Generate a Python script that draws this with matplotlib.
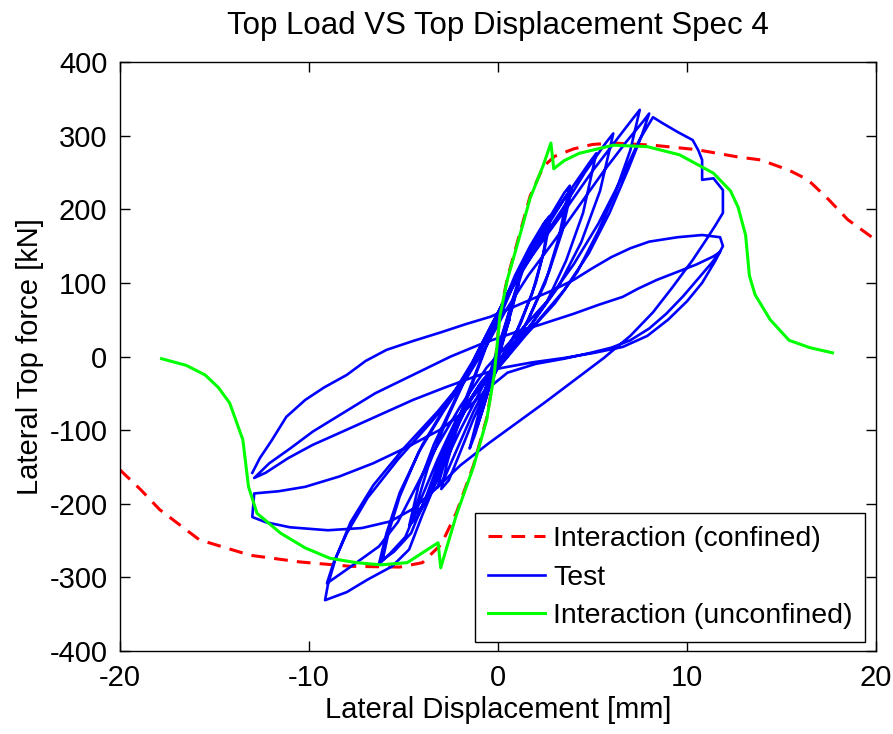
import matplotlib
matplotlib.use('Agg')
import matplotlib.pyplot as plt
from matplotlib import font_manager

# curva interazione confinata (rossa tratteggiata)
conf_x = [-20, -18.9, -17.9, -15.8, -13.1, -10.5, -7.8, -5.2, -4.0, -3.0, -2.2, -1.3, -0.6, -0.2,
          0.1, 0.5, 1.0, 1.7, 2.4, 3.0, 4.0, 5.0, 6.1, 8.2, 10.5, 12.7, 13.9, 15.4, 16.4, 17.5, 18.5, 20]
conf_y = [-154, -181, -208, -249, -270, -279, -285, -286, -280, -255, -212, -148, -84, -23,
          57, 107, 153, 218, 258, 272, 282, 288, 290, 287, 281, 271, 267, 253, 240, 213, 186, 158]

# curva interazione non confinata (verde)
unconf_x = [-17.8, -16.5, -15.5, -14.8, -14.2, -13.5, -13.2, -12.75, -11.5, -10.2, -8.9, -7.5, -6.2,
            -4.8, -3.6, -3.17, -3.03, -2.2, -1.3, -0.6, -0.2, 0.1, 0.5, 1.0, 1.7, 2.4, 2.8, 2.95,
            3.5, 4.3, 6.1, 7.9, 9.6, 11.4, 12.3, 12.7, 13.1, 13.3, 13.6, 14.4, 15.4, 16.5, 17.7]
unconf_y = [-3, -12, -25, -42, -63, -113, -177, -213, -240, -260, -274, -280, -283,
            -280, -260, -253, -287, -215, -150, -86, -25, 55, 105, 150, 215, 260, 290, 255,
            266, 276, 287, 285, 274, 249, 225, 203, 165, 110, 84, 50, 22, 12, 5]

# prova sperimentale (blu), a tratti
test_elastic = [(0, 0), (0.3, 25), (0.6, 50), (0.4, 38), (0, 8), (-0.3, -20), (-0.6, -48), (-0.4, -36),
                (0, -5), (0.5, 42), (0.9, 80), (1.1, 100), (0.8, 78), (0.2, 25), (-0.4, -25), (-0.9, -75),
                (-1.1, -95), (-0.8, -72), (-0.2, -20), (0.5, 45), (1.1, 100), (1.4, 125), (1.1, 105),
                (0.4, 45), (-0.4, -20), (-1.1, -85), (-1.5, -125), (-1.2, -105), (-0.5, -45)]

test_small = [(0.2, 0), (1.0, 35), (1.8, 85), (2.4, 140), (2.7, 190), (2.4, 180), (1.7, 150), (0.9, 110),
              (0.1, 60), (-0.6, 15), (-1.4, -40), (-2.2, -100), (-2.7, -145), (-3.0, -180), (-2.6, -168),
              (-2.0, -130), (-1.3, -85), (-0.5, -40),
              (0.4, 5), (1.2, 45), (2.0, 100), (2.5, 150), (2.8, 192), (2.5, 183), (1.8, 150), (1.0, 108),
              (0.2, 60), (-0.7, 10), (-1.6, -50), (-2.5, -115), (-2.9, -150), (-3.2, -178), (-2.8, -163),
              (-2.1, -122), (-1.3, -75), (-0.5, -35),
              (0.5, 5), (1.5, 45), (2.5, 100), (3.2, 160), (3.8, 232), (3.5, 222), (2.8, 192), (1.8, 148),
              (0.8, 100), (-0.2, 50), (-1.2, 0), (-2.3, -60), (-3.4, -120), (-4.2, -175), (-4.7, -230),
              (-4.2, -215), (-3.6, -185), (-2.9, -135), (-2.0, -85), (-1.0, -40),
              (0.5, 0), (1.6, 50), (2.7, 115), (3.4, 170), (3.9, 228), (3.6, 218), (2.8, 185), (1.7, 138),
              (0.6, 88), (-0.4, 38), (-1.5, -18), (-2.7, -85), (-3.7, -150), (-4.5, -218), (-4.0, -203),
              (-3.3, -165), (-2.5, -115), (-1.5, -60)]

test_mid = [(0.3, -5), (1.4, 30), (2.6, 75), (3.6, 130), (4.5, 195), (5.2, 276), (4.8, 262), (3.8, 225),
            (2.6, 180), (1.4, 130), (0.3, 75), (-0.6, 25), (-1.6, -25), (-2.9, -75), (-4.2, -130),
            (-5.2, -190), (-5.8, -240), (-6.1, -276), (-5.5, -265), (-4.6, -240), (-3.8, -190),
            (-3.0, -135), (-2.0, -80), (-0.9, -35),
            (0.4, 5), (1.8, 45), (3.2, 95), (4.4, 155), (5.4, 225), (6.1, 303), (5.7, 290), (4.6, 250),
            (3.4, 200), (2.1, 150), (0.8, 95), (-0.3, 45), (-1.3, -5), (-2.6, -60), (-4.0, -120),
            (-5.2, -185), (-5.9, -240), (-6.3, -282), (-5.8, -270), (-4.9, -245), (-4.1, -195),
            (-3.2, -140), (-2.2, -85), (-1.0, -40)]

test_peak = [(0.2, -10), (1.5, 30), (3.0, 72), (4.2, 115), (5.3, 170), (6.2, 222), (7.0, 280), (7.5, 335),
             (7.1, 322), (6.2, 292), (5.0, 252), (3.8, 208), (2.5, 162), (1.2, 115), (0.2, 70), (-0.6, 25),
             (-1.6, -25), (-3.2, -75), (-5.0, -125), (-6.6, -175), (-7.8, -225), (-8.6, -275),
             (-9.0, -310), (-9.15, -331),
             (-8.0, -320), (-6.9, -303), (-5.6, -285), (-4.7, -262), (-4.0, -215), (-3.1, -160),
             (-2.0, -100), (-0.8, -40), (0.5, 5), (2.0, 45), (3.5, 90), (4.8, 140), (5.9, 195), (6.9, 255),
             (7.6, 300), (8.0, 330),
             (7.7, 320), (6.8, 292), (5.6, 252), (4.3, 205), (3.0, 158), (1.6, 110), (0.4, 62), (-0.6, 15),
             (-1.8, -35), (-3.5, -88), (-5.3, -140), (-6.9, -192), (-8.0, -240), (-8.7, -280),
             (-9.05, -308),
             (-8.6, -300), (-7.6, -282), (-6.3, -258), (-5.3, -225), (-4.4, -180), (-3.3, -125),
             (-2.0, -68), (-0.6, -15), (1.0, 30), (2.6, 75), (4.0, 125), (5.3, 180), (6.5, 240),
             (7.5, 295), (8.2, 325)]

test_post = [(8.7, 317), (9.5, 305), (10.3, 294), (10.6, 280), (10.8, 267), (10.8, 240), (11.4, 242),
             (11.9, 226), (11.9, 195), (11.5, 178), (11.0, 158), (10.3, 131), (9.2, 93), (8.2, 60),
             (7.0, 28), (5.6, -2), (4.0, -33), (2.5, -62), (1.0, -90), (-0.5, -118), (-2.0, -148),
             (-3.3, -180), (-4.5, -207), (-5.7, -224), (-7.2, -233), (-9.0, -236), (-11.0, -232),
             (-12.3, -225), (-13.0, -218), (-12.9, -186),
             (-11.6, -183), (-10.2, -177), (-8.4, -163), (-6.6, -145), (-4.8, -123), (-3.1, -100),
             (-1.8, -75), (-0.6, -45), (0.5, -22), (2.0, -10), (3.5, -3), (4.9, 5), (6.0, 12), (7.0, 22),
             (8.0, 38), (8.9, 58), (9.8, 82), (10.6, 106), (11.3, 127), (11.75, 142),
             (11.4, 136), (10.5, 125), (9.4, 114), (8.4, 104), (7.4, 92), (6.6, 81), (5.3, 70), (4.0, 58),
             (2.2, 43), (0.8, 32), (-0.8, 18), (-2.5, 0), (-4.5, -25), (-6.5, -50), (-8.4, -80),
             (-9.8, -102), (-11.0, -125), (-12.1, -145), (-12.9, -165),
             (-12.3, -158), (-11.1, -138), (-9.8, -120), (-8.4, -104), (-6.5, -82), (-4.5, -59),
             (-2.8, -42), (-1.3, -28), (0.1, -16), (1.8, -8), (3.5, -2), (5.1, 5), (6.6, 13), (7.9, 28),
             (9.0, 50), (10.0, 75), (10.8, 100), (11.5, 130), (11.9, 150), (11.75, 162),
             (10.8, 165), (9.5, 162), (8.0, 156), (7.0, 147), (6.0, 135), (5.0, 120), (4.0, 104),
             (2.9, 90), (1.8, 78), (0.7, 66), (-0.4, 54), (-1.7, 44), (-3.0, 33), (-4.5, 21), (-5.9, 9),
             (-7.0, -6), (-8.0, -25), (-9.2, -42), (-10.2, -59), (-11.2, -82), (-12.0, -115),
             (-12.6, -138), (-13.0, -158)]

test_pts = test_elastic + test_small + test_mid + test_peak + test_post
test_x = [p[0] for p in test_pts]
test_y = [p[1] for p in test_pts]

x_ticks = [-20, -10, 0, 10, 20]
y_ticks = [-400, -300, -200, -100, 0, 100, 200, 300, 400]

names = [f.name for f in font_manager.fontManager.ttflist]
fam = ['Liberation Sans', 'DejaVu Sans'] if 'Liberation Sans' in names else ['DejaVu Sans']
plt.rcParams['font.family'] = fam
plt.rcParams['axes.unicode_minus'] = False

fig = plt.figure(figsize=(8.93, 7.34), dpi=100)
ax = fig.add_axes([120 / 893, 83 / 734, 756 / 893, 589 / 734])

ax.plot(conf_x, conf_y, color=(1, 0, 0), lw=2.2, ls=(0, (4.5, 3)), label='Interaction (confined)')
ax.plot(test_x, test_y, color=(0, 0, 1), lw=1.9, label='Test')
ax.plot(unconf_x, unconf_y, color=(0, 1, 0), lw=2.2, label='Interaction (unconfined)')

ax.set_xlim(-20, 20)
ax.set_ylim(-400, 400)
ax.set_xticks(x_ticks)
ax.set_yticks(y_ticks)
ax.tick_params(direction='in', length=7, width=1, top=True, right=True, labelsize=21, pad=9)
for s in ax.spines.values():
    s.set_linewidth(1)

ax.set_title('Top Load VS Top Displacement Spec 4', fontsize=22.5, pad=20)
ax.set_xlabel('Lateral Displacement [mm]', fontsize=21, labelpad=3)
ax.set_ylabel('Lateral Top force [kN]', fontsize=21, labelpad=4)

leg = ax.legend(loc='lower right', bbox_to_anchor=(0.986, 0.015), borderaxespad=0, fontsize=20.5,
                fancybox=False, framealpha=1, edgecolor='black', handlelength=2.0,
                handletextpad=0.3, labelspacing=0.45, borderpad=0.45)
leg.get_frame().set_linewidth(1)

fig.savefig('out.png', dpi=100)
